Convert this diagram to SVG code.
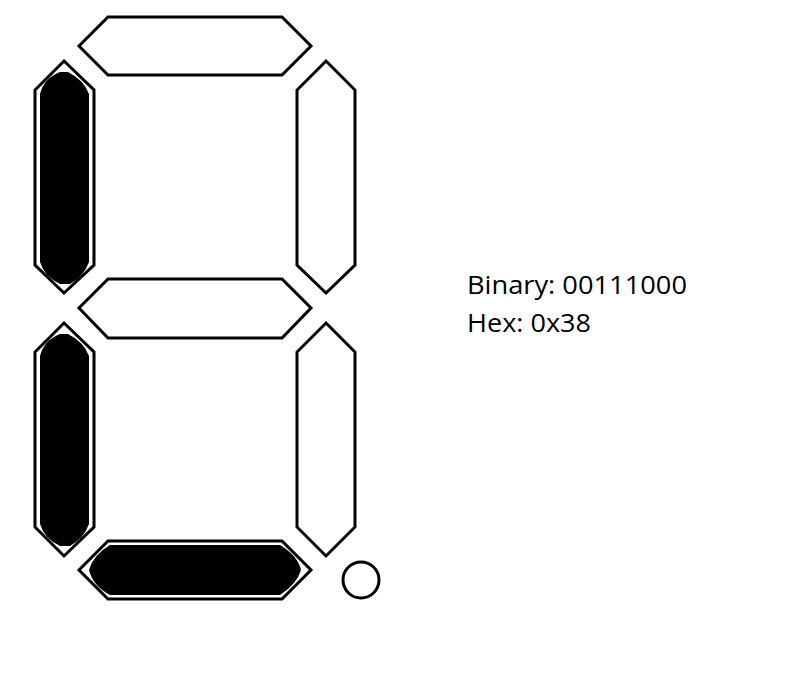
<svg xmlns="http://www.w3.org/2000/svg" width="805" height="691" viewBox="0 0 805 691">
<style>
.seg{fill:#fff;stroke:#000;stroke-width:3;stroke-linejoin:miter}
.on{fill:#000;stroke:none}
.t{font-family:"Open Sans","Liberation Sans",sans-serif;font-size:25px;fill:#000}
</style>
<rect width="805" height="691" fill="#fff"/>
<g id="seg-a"><polygon class="seg" points="79,46 108,17 282,17 311,46 282,75 108,75"/></g>
<g id="seg-b"><polygon class="seg" points="326,61 355,90 355,265 326,293 297,265 297,90"/></g>
<g id="seg-c"><polygon class="seg" points="326,323 355,352 355,527 326,556 297,527 297,352"/></g>
<g id="seg-d"><polygon class="seg" points="79,570 108,541 282,541 311,570 282,599 108,599"/><path class="on" d="M110,545 L280,545 Q298,556 301,570 Q297,584 280,595 L110,595 Q93,586 89,570 Q93,555 110,545 Z"/></g>
<g id="seg-e"><polygon class="seg" points="64,323 94,352 94,527 64,556 35,527 35,352"/><path class="on" d="M40,356 Q44,340 60,334 L68,334 Q84,342 89,356 L89,524 Q84,538 70,546 L60,546 Q44,538 40,524 Z"/></g>
<g id="seg-f"><polygon class="seg" points="64,61 94,90 94,265 64,293 35,265 35,90"/><path class="on" d="M40,94 Q44,78 60,72 L68,72 Q84,80 89,94 L89,262 Q84,276 70,284 L60,284 Q44,276 40,262 Z"/></g>
<g id="seg-g"><polygon class="seg" points="79,308 108,279 282,279 311,308 282,338 108,338"/></g>
<g id="dp"><circle cx="361" cy="580" r="18" fill="#fff" stroke="#000" stroke-width="3"/></g>
<g id="label">
<text class="t" x="467" y="294" textLength="220" lengthAdjust="spacingAndGlyphs">Binary: 00111000</text>
<text class="t" x="467" y="332" textLength="124" lengthAdjust="spacingAndGlyphs">Hex: 0x38</text>
</g>
</svg>
